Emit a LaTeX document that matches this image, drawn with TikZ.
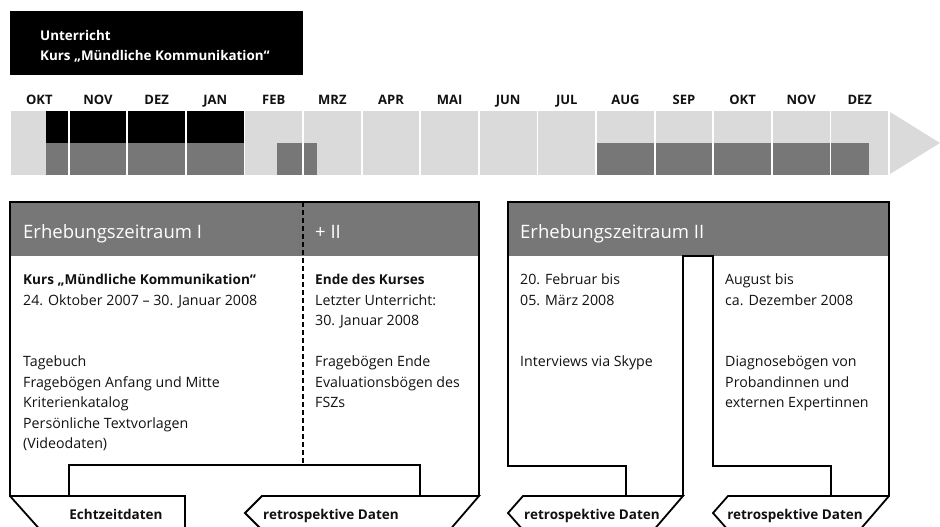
\documentclass[tikz,border=0pt]{standalone}
\usepackage{fontspec}
\setmainfont{Open Sans}
\usetikzlibrary{positioning}
\definecolor{cellgray}{HTML}{DADADA}
\definecolor{headgray}{HTML}{777777}
\definecolor{barblack}{HTML}{000000}
\definecolor{textcolor}{HTML}{111111}
\tikzset{
  monthcell/.style={fill=cellgray},
  monthlabel/.style={
    anchor=base,
    inner sep=0pt,
    text=textcolor,
    font=\bfseries\fontsize{13}{15}\selectfont
  },
  boxline/.style={
    draw=black,
    line width=1.8pt,
    line join=miter
  },
  headtext/.style={
    anchor=base west,
    inner sep=0pt,
    text=white,
    font=\fontsize{18.5}{22}\selectfont
  },
  bodytext/.style={
    anchor=north west,
    inner sep=0pt,
    align=left,
    text=textcolor,
    font=\fontsize{14.2}{20.5}\selectfont
  },
  tablabel/.style={
    anchor=base,
    inner sep=0pt,
    text=textcolor,
    font=\bfseries\fontsize{13.5}{16}\selectfont
  }
}
\newcommand{\bodybold}[1]{{\bfseries\fontsize{13.6}{20.5}\selectfont #1}}

\begin{document}
\begin{tikzpicture}[x=1pt, y=-1pt]

  \clip (0,0) rectangle (940,527);

  % Unterricht box
  \fill[barblack] (10,11) rectangle (303,75);
  \node (unterricht) [bodytext, text=white, font=\bfseries\fontsize{13.4}{20}\selectfont] at (40,30) {Unterricht\\Kurs „Mündliche Kommunikation“};

  % Timeline
  \foreach \m [count=\i from 0] in {OKT,NOV,DEZ,JAN,FEB,MRZ,APR,MAI,JUN,JUL,AUG,SEP,OKT,NOV,DEZ} {
    \fill[monthcell] (11+58.6*\i,111) rectangle ++(56.8,64);
    \node (m\i) [monthlabel] at (39.4+58.6*\i,104) {\m};
  }
  \fill[cellgray] (890,112) -- (940,143) -- (890,174) -- cycle;

  % Unterricht months
  \fill[barblack] (46,111) rectangle (67.8,143);
  \foreach \i in {1,2,3}
    \fill[barblack] (11+58.6*\i,111) rectangle ++(56.8,32);

  % Erhebung months
  \fill[headgray] (46,143) rectangle (67.8,175);
  \foreach \i in {1,2,3,10,11,12,13}
    \fill[headgray] (11+58.6*\i,143) rectangle ++(56.8,32);
  \fill[headgray] (277,143) rectangle (302.2,175);
  \fill[headgray] (304,143) rectangle (317,175);
  \fill[headgray] (831.4,143) rectangle (869,175);

  % Headers
  \fill[headgray] (10,202) rectangle (479,256);
  \fill[headgray] (508,202) rectangle (889,256);

  % Erhebungszeitraum I
  \draw[boxline] (479,496) -- (479,202) -- (10,202) -- (10,496) -- (185,496) -- (185,535);
  \draw[boxline] (10,496) -- (43,533);
  \draw[boxline] (69,496) -- (69,465) -- (420,465) -- (420,496);
  \draw[boxline] (262,530) -- (245,513) -- (262,496) -- (479,496) -- (448,532);
  \draw[boxline, dash pattern=on 5pt off 3pt] (303,202) -- (303,465);

  % Erhebungszeitraum II
  \draw[boxline] (626,496) -- (626,466) -- (508,466) -- (508,202) -- (889,202) -- (889,496) -- (858,532);
  \draw[boxline] (683,496) -- (683,256) -- (713,256) -- (713,466) -- (831,466) -- (831,496);
  \draw[boxline] (523,530) -- (508,513) -- (523,496) -- (683,496) -- (652,532);
  \draw[boxline] (728,530) -- (713,513) -- (728,496) -- (889,496);

  % Header texts
  \node (ez1) [headtext] at (23,238) {Erhebungszeitraum I};
  \node (ez1b) [headtext] at (315,238) {+ II};
  \node (ez2) [headtext] at (520,238) {Erhebungszeitraum II};

  % Body texts
  \node (kurs) [bodytext] at (23,274) {\bodybold{Kurs „Mündliche Kommunikation“}\\24. Oktober 2007 – 30. Januar 2008\\[41pt]Tagebuch\\Fragebögen Anfang und Mitte\\Kriterienkatalog\\Persönliche Textvorlagen\\(Videodaten)};
  \node (ende) [bodytext] at (315,274) {\bodybold{Ende des Kurses}\\Letzter Unterricht:\\30. Januar 2008\\[20.5pt]Fragebögen Ende\\Evaluationsbögen des\\FSZs};
  \node (februar) [bodytext] at (520,274) {20. Februar bis\\05. März 2008\\[41pt]Interviews via Skype};
  \node (august) [bodytext] at (725,274) {August bis\\ca. Dezember 2008\\[41pt]Diagnosebögen von\\Probandinnen und\\externen Expertinnen};

  % Tab labels
  \node (echtzeit) [tablabel] at (116,519) {Echtzeitdaten};
  \node (retro1) [tablabel] at (331,519) {retrospektive Daten};
  \node (retro2) [tablabel] at (592,519) {retrospektive Daten};
  \node (retro3) [tablabel] at (795,519) {retrospektive Daten};

\end{tikzpicture}
\end{document}
